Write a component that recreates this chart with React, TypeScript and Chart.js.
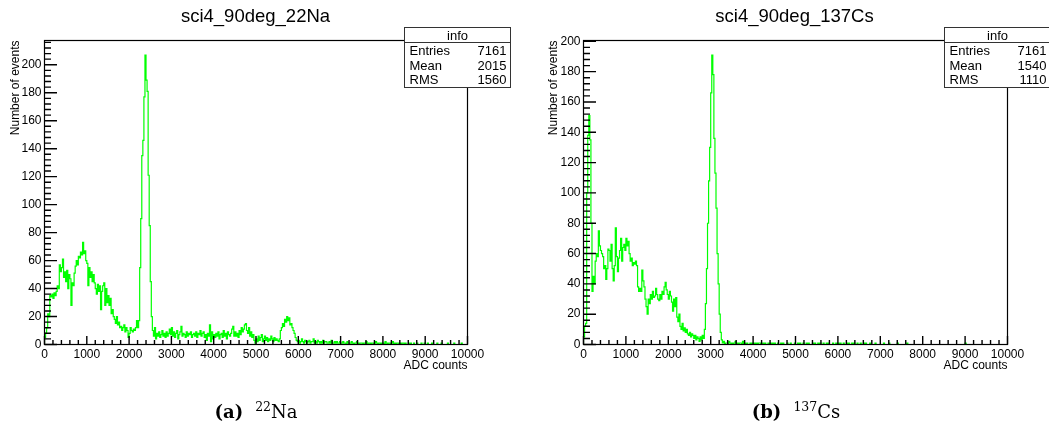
import React, { useEffect, useRef } from "react";
import { Chart, registerables } from "chart.js";

Chart.register(...registerables);

// ---------------- data ----------------
const BIN_WIDTH = 25; // ADC counts per bin (400 bins from 0 to 10000)
const X_MIN = 0;
const X_MAX = 10000;

const na22Counts: number[] = [
  5, 8, 12, 22, 20, 35, 34, 36, 33, 37, 35, 38, 42, 40, 57, 52, 55, 61, 48, 52,
  45, 53, 40, 50, 47, 28, 44, 42, 51, 56, 60, 57, 63, 62, 66, 64, 73, 65, 67, 60,
  58, 42, 55, 48, 52, 45, 50, 44, 40, 36, 43, 38, 42, 25, 38, 42, 44, 28, 40, 30,
  35, 28, 33, 22, 25, 20, 18, 15, 20, 14, 16, 12, 13, 10, 12, 14, 9, 12, 10, 5,
  8, 12, 10, 9, 11, 10, 12, 17, 12, 17, 55, 90, 135, 146, 177, 207, 189, 181, 121, 85,
  45, 20, 10, 6, 12, 4, 8, 6, 9, 5, 7, 10, 6, 8, 5, 9, 6, 8, 11, 7,
  12, 6, 9, 5, 8, 10, 4, 7, 9, 13, 6, 8, 7, 5, 9, 6, 8, 7, 9, 5,
  7, 8, 6, 9, 5, 8, 7, 10, 6, 8, 9, 5, 7, 3, 8, 6, 14, 2, 9, 4,
  7, 5, 8, 6, 9, 4, 7, 8, 5, 10, 6, 8, 4, 9, 7, 6, 8, 11, 13, 6,
  9, 6, 8, 5, 10, 7, 12, 9, 11, 14, 15, 10, 8, 12, 6, 9, 5, 7, 3, 1,
  4, 2, 6, 3, 5, 7, 2, 4, 6, 3, 5, 2, 4, 3, 6, 4, 2, 5, 3, 4,
  3, 2, 4, 10, 12, 15, 13, 18, 16, 20, 17, 19, 14, 15, 12, 10, 8, 5, 3, 2,
  3, 1, 2, 4, 2, 1, 3, 2, 1, 2, 3, 1, 2, 2, 4, 1, 2, 1, 3, 2,
  1, 2, 1, 3, 1, 2, 2, 1, 1, 2, 1, 3, 1, 1, 2, 1, 2, 1, 1, 2,
  1, 1, 2, 1, 1, 0, 2, 1, 1, 1, 2, 1, 0, 1, 1, 2, 1, 0, 1, 1,
  1, 0, 1, 1, 2, 0, 1, 1, 0, 1, 1, 0, 1, 2, 1, 0, 1, 1, 0, 1,
  1, 0, 2, 1, 0, 1, 1, 0, 1, 2, 0, 1, 0, 1, 1, 0, 1, 0, 1, 1,
  0, 1, 0, 0, 1, 0, 1, 0, 0, 1, 0, 0, 1, 0, 0, 0, 1, 0, 0, 1,
  0, 0, 1, 0, 0, 0, 1, 0, 0, 0, 0, 1, 0, 0, 0, 1, 0, 0, 0, 0,
  0, 1, 0, 0, 0, 0, 0, 1, 0, 0, 0, 0, 0, 0, 1, 0, 0, 0, 0, 0,
];

const cs137Counts: number[] = [
  5, 12, 14, 100, 138, 151, 135, 80, 35, 45, 40, 55, 60, 58, 75, 65, 62, 60, 58, 50,
  52, 43, 50, 63, 62, 55, 66, 50, 42, 52, 77, 58, 48, 57, 62, 70, 55, 64, 66, 62,
  70, 65, 68, 60, 55, 57, 52, 54, 53, 55, 52, 38, 35, 37, 35, 49, 42, 38, 30, 25,
  20, 30, 27, 33, 30, 35, 31, 32, 37, 33, 30, 29, 33, 30, 35, 33, 38, 41, 36, 33,
  30, 35, 32, 28, 22, 30, 25, 31, 18, 15, 20, 12, 10, 14, 9, 11, 8, 10, 7, 6,
  8, 5, 7, 6, 4, 6, 3, 5, 4, 2, 5, 3, 6, 4, 10, 27, 50, 80, 108, 130,
  166, 191, 178, 136, 113, 90, 60, 40, 20, 8, 3, 1, 2, 0, 1, 1, 0, 2, 1, 0,
  1, 0, 1, 2, 0, 1, 0, 1, 1, 0, 2, 0, 1, 0, 1, 0, 0, 1, 0, 1,
  0, 1, 0, 1, 0, 1, 1, 0, 0, 1, 0, 1, 0, 0, 1, 0, 1, 0, 1, 0,
  1, 0, 0, 1, 0, 0, 1, 0, 1, 0, 0, 0, 1, 0, 0, 1, 0, 0, 0, 1,
  0, 0, 1, 0, 1, 0, 0, 1, 0, 0, 1, 0, 1, 0, 0, 0, 1, 0, 1, 0,
  0, 1, 0, 1, 0, 0, 1, 0, 0, 1, 0, 1, 0, 0, 0, 1, 0, 0, 1, 0,
  1, 0, 1, 0, 0, 1, 0, 0, 1, 0, 1, 0, 0, 1, 0, 1, 0, 0, 1, 0,
  0, 1, 0, 0, 1, 0, 1, 0, 0, 0, 1, 0, 0, 0, 0, 1, 0, 0, 0, 0,
  0, 0, 0, 1, 0, 0, 0, 0, 1, 0, 0, 0, 0, 0, 0, 0, 1, 0, 0, 0,
  0, 0, 0, 0, 0, 1, 0, 0, 0, 0, 0, 0, 0, 0, 0, 0, 0, 0, 0, 0,
  0, 0, 0, 0, 0, 0, 0, 0, 0, 0, 0, 0, 0, 0, 0, 0, 0, 0, 0, 0,
  0, 0, 0, 0, 0, 0, 0, 0, 0, 0, 0, 0, 0, 0, 0, 0, 0, 0, 0, 0,
  1, 0, 0, 0, 0, 0, 0, 0, 0, 0, 0, 0, 0, 0, 0, 0, 0, 0, 0, 0,
  0, 0, 0, 0, 0, 0, 0, 0, 0, 0, 0, 0, 0, 0, 0, 0, 0, 0, 0, 0,
];

const titles = ["sci4_90deg_22Na", "sci4_90deg_137Cs"];
const statLabels = ["Entries", "Mean", "RMS"];
const na22Stats = ["7161", "2015", "1560"];
const cs137Stats = ["7161", "1540", "1110"];
const yMaxValues = [217.35, 200.55];
const X_TICK_STEP = 1000;
const X_MINOR_STEP = 200;
const Y_TICK_STEP = 20;
const Y_MINOR_STEP = 4;
const xAxisTitle = "ADC counts";
const yAxisTitle = "Number of events";

// ---------------- helpers ----------------
const SANS = "'Liberation Sans', Arial, Helvetica, sans-serif";
const H = 428;
const AREA_TOP = 40.5;
const AREA_BOTTOM = 344.5;

function stepPoints(counts: number[]) {
  const pts: { x: number; y: number }[] = [{ x: X_MIN, y: 0 }];
  counts.forEach((c, i) => {
    pts.push({ x: X_MIN + i * BIN_WIDTH, y: c });
    pts.push({ x: X_MIN + (i + 1) * BIN_WIDTH, y: c });
  });
  pts.push({ x: X_MAX, y: 0 });
  return pts;
}

type PanelProps = {
  counts: number[];
  yMax: number;
  title: string;
  stats: string[];
  left: number;
  width: number;
  areaLeft: number;
  areaRight: number;
  yTitlePad: number;
  titleCenter: number;
};

function drawTicks(chart: any, yMax: number) {
  const ctx = chart.ctx;
  const a = chart.chartArea;
  const xs = chart.scales["x"];
  const ys = chart.scales["y"];
  ctx.save();
  ctx.strokeStyle = "#000000";
  ctx.lineWidth = 1.4;
  ctx.beginPath();
  for (let i = 0; i * X_MINOR_STEP <= X_MAX - X_MIN; i++) {
    const v = X_MIN + i * X_MINOR_STEP;
    const px = xs.getPixelForValue(v);
    const len = v % X_TICK_STEP === 0 ? 8.5 : 4.5;
    ctx.moveTo(px, a.bottom);
    ctx.lineTo(px, a.bottom - len);
  }
  for (let i = 0; i * Y_MINOR_STEP <= yMax; i++) {
    const v = i * Y_MINOR_STEP;
    const py = ys.getPixelForValue(v);
    const len = v % Y_TICK_STEP === 0 ? 12.5 : 6.5;
    ctx.moveTo(a.left, py);
    ctx.lineTo(a.left + len, py);
  }
  ctx.stroke();
  ctx.restore();
}

function HistPanel(p: PanelProps) {
  const ref = useRef<HTMLCanvasElement>(null);
  useEffect(() => {
    const canvas = ref.current!;
    const decor = {
      id: "rootDecor",
      afterDraw(chart: any) {
        const { ctx, chartArea: a } = chart;
        ctx.save();
        ctx.strokeStyle = "#000";
        ctx.lineWidth = 1.2;
        ctx.strokeRect(a.left, a.top, a.right - a.left, a.bottom - a.top);
        ctx.restore();
        drawTicks(chart, p.yMax);
        ctx.save();
        // title
        ctx.fillStyle = "#000";
        ctx.font = `18.5px ${SANS}`;
        ctx.textAlign = "center";
        ctx.textBaseline = "alphabetic";
        ctx.fillText(p.title, p.titleCenter, 22);
        // stats box
        const bx = Math.round(a.right - 63.5) + 0.5;
        const by = 27.5;
        const bw = 106;
        const bh = 60;
        ctx.fillStyle = "#fff";
        ctx.fillRect(bx, by, bw, bh);
        ctx.strokeStyle = "#333";
        ctx.lineWidth = 1;
        ctx.strokeRect(bx, by, bw, bh);
        ctx.beginPath();
        ctx.moveTo(bx, by + 15);
        ctx.lineTo(bx + bw, by + 15);
        ctx.stroke();
        ctx.fillStyle = "#000";
        ctx.font = `13px ${SANS}`;
        ctx.textAlign = "center";
        ctx.fillText("info", bx + bw / 2, by + 12.5);
        statLabels.forEach((lab, i) => {
          const yy = by + 27.5 + i * 14.5;
          ctx.textAlign = "left";
          ctx.fillText(lab, bx + 5, yy);
          ctx.textAlign = "right";
          ctx.fillText(p.stats[i], bx + bw - 4, yy);
        });
        ctx.restore();
      },
    };

    const chart = new Chart(canvas, {
      type: "line",
      data: {
        datasets: [
          {
            data: stepPoints(p.counts),
            borderColor: "#00ff00",
            borderWidth: 1.2,
            pointRadius: 0,
            fill: false,
            tension: 0,
          },
        ],
      },
      options: {
        responsive: false,
        animation: false,
        devicePixelRatio: 1,
        events: [],
        layout: {
          padding: { left: 0, right: p.width - p.areaRight, top: AREA_TOP, bottom: 0 },
        },
        plugins: {
          legend: { display: false },
          tooltip: { enabled: false },
          title: { display: false },
        },
        scales: {
          x: {
            type: "linear",
            min: X_MIN,
            max: X_MAX,
            afterFit: (s: any) => {
              s.height = H - AREA_BOTTOM;
            },
            grid: { display: false, drawTicks: false },
            border: { display: false },
            ticks: {
              stepSize: X_TICK_STEP,
              autoSkip: false,
              maxRotation: 0,
              minRotation: 0,
              includeBounds: false,
              padding: 3,
              color: "#000",
              font: { family: SANS, size: 12 },
              callback: (v: any) => String(v),
            },
            title: {
              display: true,
              text: xAxisTitle,
              align: "end",
              color: "#000",
              font: { family: SANS, size: 12 },
              padding: { top: 0, bottom: 55 },
            },
          },
          y: {
            type: "linear",
            min: 0,
            max: p.yMax,
            afterFit: (s: any) => {
              s.width = p.areaLeft;
            },
            grid: { display: false, drawTicks: false },
            border: { display: false },
            ticks: {
              stepSize: Y_TICK_STEP,
              includeBounds: false,
              padding: 3,
              color: "#000",
              font: { family: SANS, size: 12 },
              callback: (v: any) => String(v),
            },
            title: {
              display: true,
              text: yAxisTitle,
              align: "end",
              color: "#000",
              font: { family: SANS, size: 12 },
              padding: { top: p.yTitlePad, bottom: 0 },
            },
          },
        },
      } as any,
      plugins: [decor],
    });
    return () => chart.destroy();
  }, []);

  return (
    <canvas
      ref={ref}
      width={p.width}
      height={H}
      style={{ position: "absolute", left: p.left, top: 0, width: p.width, height: H }}
    />
  );
}

const capStyle: React.CSSProperties = {
  position: "absolute",
  top: 402,
  width: 300,
  textAlign: "center",
  fontFamily: "'DejaVu Serif', 'Liberation Serif', serif",
  fontSize: 18,
  lineHeight: "20px",
  color: "#000",
  whiteSpace: "nowrap",
};
const supStyle: React.CSSProperties = {
  fontSize: 12.5,
  position: "relative",
  top: -7,
  marginLeft: 12,
};

export default function App() {
  return (
    <div
      style={{
        position: "absolute",
        left: 0,
        top: 0,
        width: 1049,
        height: 428,
        background: "#fff",
        overflow: "hidden",
      }}
    >
      <HistPanel
        counts={na22Counts}
        yMax={yMaxValues[0]}
        title={titles[0]}
        stats={na22Stats}
        left={0}
        width={525}
        areaLeft={44.5}
        areaRight={467.5}
        yTitlePad={8.5}
        titleCenter={255.5}
      />
      <HistPanel
        counts={cs137Counts}
        yMax={yMaxValues[1]}
        title={titles[1]}
        stats={cs137Stats}
        left={525}
        width={524}
        areaLeft={58.5}
        areaRight={482.5}
        yTitlePad={21.8}
        titleCenter={269.5}
      />
      <div style={{ ...capStyle, left: 106 }}>
        <span style={{ fontWeight: "bold" }}>(a)</span>
        <span style={supStyle}>22</span>Na
      </div>
      <div style={{ ...capStyle, left: 646 }}>
        <span style={{ fontWeight: "bold" }}>(b)</span>
        <span style={supStyle}>137</span>Cs
      </div>
    </div>
  );
}
